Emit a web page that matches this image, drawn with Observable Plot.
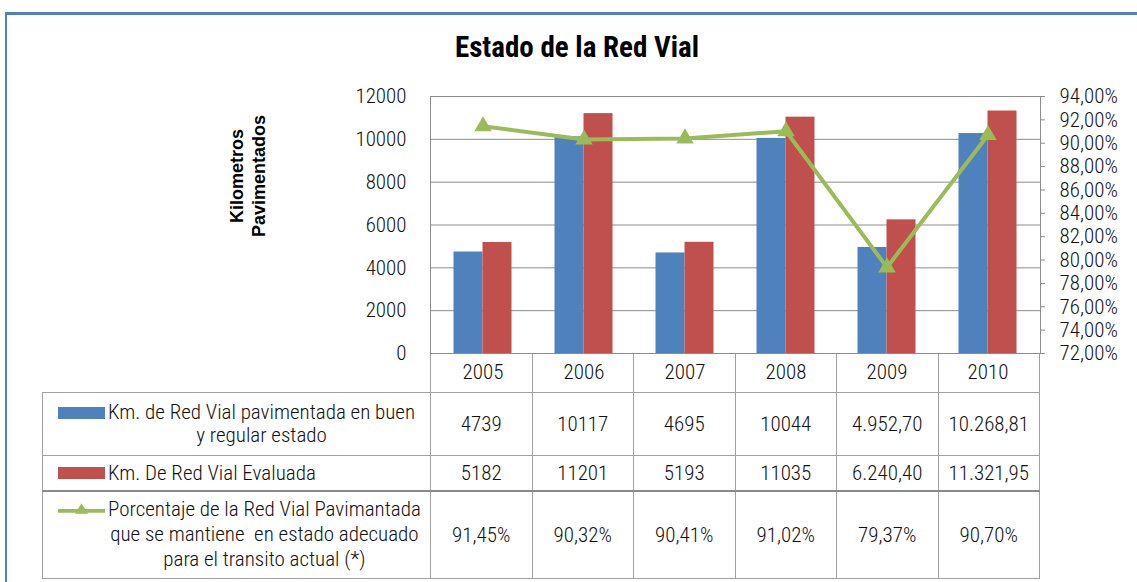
<!DOCTYPE html>
<html>
<head>
<meta charset="utf-8">
<script src="https://cdn.jsdelivr.net/npm/d3@7"></script>
<script src="https://cdn.jsdelivr.net/npm/@observablehq/plot@0.6"></script>
<style>
  html, body { margin: 0; padding: 0; background: #fff; }
  body { width: 1137px; height: 582px; position: relative; overflow: hidden;
         font-family: "Roboto Condensed", "Liberation Sans", Arial, sans-serif; font-weight: 300; color: #111; }
  #frame { position: absolute; left: 5px; top: 12px; width: 1200px; height: 700px;
           border-left: 2px solid #4F81BD; border-top: 3px solid #4F81BD; }
  #title { position: absolute; left: 0; top: 32px; width: 1154px; text-align: center;
           font-weight: bold; font-size: 29px; line-height: 31px; color: #000; }
  #ylabel { position: absolute; left: 173px; top: 154px; width: 150px; height: 44px;
            transform: rotate(-90deg); text-align: center; font-family: "Liberation Sans", Arial, sans-serif;
            font-weight: bold; font-size: 18px; line-height: 22px; color: #000; }
  #chart { position: absolute; left: 0; top: 70px; }
  #tbl { position: absolute; left: 42px; top: 353px; width: 998px; border-collapse: collapse;
         table-layout: fixed; font-size: 21px; }
  #tbl td { border: 1px solid #a0a0a0; padding: 0; text-align: center; vertical-align: middle; }
  #tbl tr.head td { border-top: none; }
  #tbl tr.head td.blank { border-left: none; }
  #tbl tr.pct td { border-top: 2px solid #8a8a8a; }
  .lab { display: flex; align-items: flex-start; padding-left: 15px; text-align: left; }
  .sw { flex: none; width: 47px; height: 12px; margin-right: 3px; }
  .txt { display: inline-block; text-align: center; white-space: nowrap; }
</style>
</head>
<body>
<div id="frame"></div>
<div id="title">Estado de la Red Vial</div>
<div id="ylabel">Kilometros<br>Pavimentados</div>
<table id="tbl"></table>
<div id="chart"></div>
<script>
// ---- data ----
const years = ["2005", "2006", "2007", "2008", "2009", "2010"];
const kmBuenEstado = [4739, 10117, 4695, 10044, 4952.70, 10268.81];
const kmEvaluada = [5182, 11201, 5193, 11035, 6240.40, 11321.95];
const porcentaje = [91.45, 90.32, 90.41, 91.02, 79.37, 90.70];
const kmTicks = [0, 2000, 4000, 6000, 8000, 10000, 12000];
const pctTicks = [72, 74, 76, 78, 80, 82, 84, 86, 88, 90, 92, 94];
const labelBuen = ["Km. de Red Vial pavimentada en buen", "y regular estado"];
const labelEval = ["Km. De Red Vial Evaluada"];
const labelPct = ["Porcentaje de la Red Vial Pavimantada", "que se mantiene\u00a0 en estado adecuado", "para el transito actual (*)"];
const colBuen = "#4F81BD", colEval = "#C0504D", colPct = "#9BBB59";

// ---- helpers ----
const kmMax = kmTicks[kmTicks.length - 1];
const pctMin = pctTicks[0], pctMax = pctTicks[pctTicks.length - 1];
const pctToKm = p => (p - pctMin) / (pctMax - pctMin) * kmMax;
const kmToPct = v => v / kmMax * (pctMax - pctMin) + pctMin;
const es = d3.formatLocale({decimal: ",", thousands: ".", grouping: [3], currency: ["", "€"]});
const fmtPct = p => es.format(".2f")(p) + "%";
const fmtKm = v => Number.isInteger(v) ? String(v) : es.format(",.2f")(v);

const data = years.map((y, i) => ({year: y, buen: kmBuenEstado[i], evalu: kmEvaluada[i], pct: porcentaje[i]}));

// ---- table ----
const tbl = document.getElementById("tbl");
let html = `<colgroup><col style="width:388px">${years.map(() => "<col>").join("")}</colgroup>`;
html += `<tr class="head" style="height:39px"><td class="blank"></td>${years.map(() => "<td></td>").join("")}</tr>`;
const swRect = c => `<span class="sw" style="background:${c};margin-top:6px"></span>`;
const swLine = c => `<svg class="sw" style="height:14px;margin-top:5px" width="50" height="14" viewBox="0 0 50 14"><line x1="0" y1="9" x2="50" y2="9" stroke="${c}" stroke-width="4"/><polygon points="25,1 32,12 18,12" fill="${c}"/></svg>`;
const labCell = (sw, lines, lh) => `<td><div class="lab">${sw}<span class="txt" style="line-height:${lh}px">${lines.join("<br>")}</span></div></td>`;
html += `<tr style="height:63px">${labCell(swRect(colBuen), labelBuen, 23)}${kmBuenEstado.map(v => `<td>${fmtKm(v)}</td>`).join("")}</tr>`;
html += `<tr style="height:36px">${labCell(swRect(colEval), labelEval, 24)}${kmEvaluada.map(v => `<td>${fmtKm(v)}</td>`).join("")}</tr>`;
html += `<tr class="pct" style="height:87px">${labCell(swLine(colPct), labelPct, 25)}${porcentaje.map(v => `<td>${fmtPct(v)}</td>`).join("")}</tr>`;
tbl.innerHTML = html;

// ---- chart ----
const grid = "#8c8c8c";
const chart = Plot.plot({
  width: 1137,
  height: 330,
  marginTop: 26,
  marginBottom: 47,
  marginLeft: 430,
  marginRight: 97,
  style: {background: "transparent", fontFamily: '"Roboto Condensed", "Liberation Sans", Arial, sans-serif', fontWeight: 300, fontSize: "21px", color: "#111", overflow: "visible"},
  x: {type: "band", domain: years, paddingInner: 0.715, paddingOuter: 0.3575, align: 0.5},
  y: {domain: [0, kmMax]},
  marks: [
    Plot.gridY(kmTicks, {stroke: grid, strokeOpacity: 1}),
    Plot.barY(data, {x: "year", y: "buen", fill: colBuen, dx: -14.5}),
    Plot.barY(data, {x: "year", y: "evalu", fill: colEval, dx: 14.5}),
    Plot.frame({stroke: grid}),
    Plot.lineY(data, {x: "year", y: d => pctToKm(d.pct), stroke: colPct, strokeWidth: 4, strokeLinejoin: "round"}),
    Plot.dot(data, {x: "year", y: d => pctToKm(d.pct), symbol: "triangle", r: 6.5, fill: colPct, stroke: "none"}),
    Plot.axisY(kmTicks, {anchor: "left", tickSize: 0, tickPadding: 24, label: null, tickFormat: d => String(d)}),
    Plot.axisY(pctTicks.map(pctToKm), {anchor: "right", tickSize: 4, tickPadding: 15, stroke: grid, label: null, tickFormat: v => fmtPct(kmToPct(v))}),
    Plot.axisX({anchor: "bottom", tickSize: 0, tickPadding: 11, label: null})
  ]
});
document.getElementById("chart").append(chart);
</script>
</body>
</html>
